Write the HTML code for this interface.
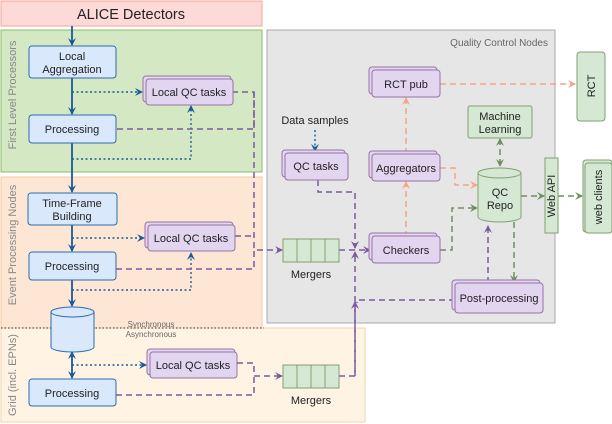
<!DOCTYPE html>
<html><head><meta charset="utf-8"><style>
body{margin:0;background:#fff}
svg{display:block;font-family:"Liberation Sans",sans-serif}
</style></head><body>
<svg width="612" height="424" viewBox="0 0 612 424" xmlns="http://www.w3.org/2000/svg">
<defs>
<marker id="ab" markerWidth="8" markerHeight="8" refX="7" refY="4" orient="auto" markerUnits="userSpaceOnUse"><path d="M0,0 L8,4 L0,8 L3,4z" fill="#1a5a9a"/></marker>
<marker id="ap" markerWidth="8" markerHeight="8" refX="7" refY="4" orient="auto" markerUnits="userSpaceOnUse"><path d="M0,0 L8,4 L0,8 L3,4z" fill="#7a5a9e"/></marker>
<marker id="ao" markerWidth="8" markerHeight="8" refX="7" refY="4" orient="auto" markerUnits="userSpaceOnUse"><path d="M0,0 L8,4 L0,8 L3,4z" fill="#f4a582"/></marker>
<marker id="ag" markerWidth="8" markerHeight="8" refX="7" refY="4" orient="auto" markerUnits="userSpaceOnUse"><path d="M0,0 L8,4 L0,8 L3,4z" fill="#6d8f5e"/></marker>
<marker id="agr" markerWidth="8" markerHeight="8" refX="1" refY="4" orient="auto" markerUnits="userSpaceOnUse"><path d="M8,0 L0,4 L8,8 L5,4z" fill="#6d8f5e"/></marker>
<marker id="abr" markerWidth="8" markerHeight="8" refX="1" refY="4" orient="auto" markerUnits="userSpaceOnUse"><path d="M8,0 L0,4 L8,8 L5,4z" fill="#1a5a9a"/></marker>
</defs>
<rect x="1" y="1" width="261" height="25" fill="#fdd9d7" stroke="#f0a89a"/>
<text x="131" y="19" font-size="14.5" text-anchor="middle" fill="#222">ALICE Detectors</text>
<rect x="1" y="30" width="261" height="142" fill="#d5e8c4" stroke="#8cbc6a"/>
<rect x="1" y="177" width="261" height="151" fill="#fde7d4" stroke="#f5c8a0"/>
<rect x="1" y="328" width="364" height="94" fill="#fff4e4" stroke="#f5d2a8"/>
<rect x="267" y="30" width="288" height="293" fill="#e6e6e6" stroke="#aaa"/>
<line x1="1" y1="328" x2="264" y2="328" stroke="#333" stroke-dasharray="1.5,2"/>
<text x="151" y="327" font-size="8" text-anchor="middle" fill="#666">Synchronous</text>
<text x="151" y="337" font-size="8" text-anchor="middle" fill="#666">Asynchronous</text>
<text x="548" y="46" font-size="10" text-anchor="end" fill="#666">Quality Control Nodes</text>
<text transform="translate(16,95) rotate(-90)" font-size="11" text-anchor="middle" fill="#888">First Level Processors</text>
<text transform="translate(16,245) rotate(-90)" font-size="11" text-anchor="middle" fill="#888">Event Processing Nodes</text>
<text transform="translate(16,375) rotate(-90)" font-size="11" text-anchor="middle" fill="#888">Grid (incl. EPNs)</text>

<g stroke="#1a5a9a" stroke-width="1.8" fill="none">
<line x1="72" y1="26" x2="72" y2="45" marker-end="url(#ab)"/>
<line x1="72" y1="78" x2="72" y2="114" marker-end="url(#ab)"/>
<line x1="72" y1="143" x2="72" y2="192" marker-end="url(#ab)"/>
<line x1="72" y1="225" x2="72" y2="251" marker-end="url(#ab)"/>
<line x1="72" y1="280" x2="72" y2="306" marker-end="url(#ab)"/>
<line x1="72" y1="352" x2="72" y2="378" marker-end="url(#ab)" marker-start="url(#abr)"/>
</g>
<g stroke="#1a5a9a" stroke-width="1.4" fill="none" stroke-dasharray="2,2.5">
<polyline points="72,92 142,92" marker-end="url(#ab)"/>
<polyline points="72,159 191,159 191,106" marker-end="url(#ab)"/>
<polyline points="72,238 144,238" marker-end="url(#ab)"/>
<polyline points="72,290 191,290 191,253" marker-end="url(#ab)"/>
<polyline points="72,365 146,365" marker-end="url(#ab)"/>
<polyline points="315,130 315,151" marker-end="url(#ab)"/>
</g>

<g stroke="#7a5a9e" stroke-width="1.5" fill="none" stroke-dasharray="6,4">
<polyline points="232,92 254,92 254,129 116,129"/>
<polyline points="254,92 254,250"/>
<polyline points="235,236 254,236"/>
<polyline points="116,269 254,269 254,250 282,250" marker-end="url(#ap)"/>
<polyline points="237,363 254,363 254,376 282,376" marker-end="url(#ap)"/>
<polyline points="116,395 254,395 254,376"/>
<polyline points="339,250 370,250" marker-end="url(#ap)"/>
<polyline points="318,180 318,192 355,192 355,248" marker-end="url(#ap)"/>
<polyline points="339,376 355,376 355,252" marker-end="url(#ap)"/>
<polyline points="455,300 357,300 357,303" />
<polyline points="355,376 355,302" marker-end="url(#ap)"/>
<polyline points="488,283 488,226" marker-end="url(#ap)"/>
</g>
<g stroke="#f4a582" stroke-width="1.5" fill="none" stroke-dasharray="6,4">
<polyline points="406,237 406,182" marker-end="url(#ao)"/>
<polyline points="406,154 406,98" marker-end="url(#ao)"/>
<polyline points="440,84 575,84" marker-end="url(#ao)"/>
<polyline points="440,168 455,168 455,185 477,185" marker-end="url(#ao)"/>
</g>
<g stroke="#6d8f5e" stroke-width="1.5" fill="none" stroke-dasharray="6,4">
<polyline points="440,250 452,250 452,208 477,208" marker-end="url(#ag)"/>
<polyline points="500,139 500,166" marker-end="url(#ag)" marker-start="url(#agr)"/>
<polyline points="521,196 544,196" marker-end="url(#ag)"/>
<polyline points="558,196 582,196" marker-end="url(#ag)"/>
<polyline points="514,222 514,282" marker-end="url(#ag)"/>
</g>

<g fill="#dae8fc" stroke="#2a6cb0" stroke-width="1">
<rect x="29" y="46" width="87" height="32" rx="3"/>
<rect x="29" y="115" width="87" height="28" rx="3"/>
<rect x="28" y="193" width="89" height="32" rx="3"/>
<rect x="29" y="252" width="87" height="28" rx="3"/>
<rect x="29" y="379" width="87" height="27" rx="3"/>
<path d="M51,312 v35 a21.5,5 0 0 0 43,0 v-35"/>
<ellipse cx="72.5" cy="312" rx="21.5" ry="5"/>
</g>
<g font-size="11" text-anchor="middle" fill="#222">
<text x="72" y="60">Local</text><text x="72" y="73">Aggregation</text>
<text x="72" y="133">Processing</text>
<text x="72" y="207">Time-Frame</text><text x="72" y="220">Building</text>
<text x="72" y="270">Processing</text>
<text x="72" y="397">Processing</text>
</g>

<g fill="#e1d5f0" stroke="#9673a6" stroke-width="1">
<rect x="143" y="76" width="88" height="26" rx="3"/><rect x="146" y="79" width="87" height="26" rx="3"/>
<rect x="145" y="222" width="88" height="26" rx="3"/><rect x="148" y="225" width="87" height="26" rx="3"/>
<rect x="147" y="349" width="88" height="26" rx="3"/><rect x="150" y="352" width="87" height="26" rx="3"/>
<rect x="282" y="150" width="63" height="27" rx="3"/><rect x="285" y="153" width="63" height="27" rx="3"/>
<rect x="369" y="67" width="68" height="27" rx="3"/><rect x="372" y="70" width="68" height="27" rx="3"/>
<rect x="369" y="151" width="68" height="27" rx="3"/><rect x="372" y="154" width="68" height="27" rx="3"/>
<rect x="369" y="233" width="68" height="27" rx="3"/><rect x="372" y="236" width="68" height="27" rx="3"/>
<rect x="452" y="280" width="88" height="30" rx="3"/><rect x="455" y="283" width="88" height="30" rx="3"/>
</g>
<g font-size="11" text-anchor="middle" fill="#222">
<text x="189" y="96">Local QC tasks</text>
<text x="191" y="242">Local QC tasks</text>
<text x="193" y="369">Local QC tasks</text>
<text x="316" y="170">QC tasks</text>
<text x="406" y="88">RCT pub</text>
<text x="406" y="172">Aggregators</text>
<text x="406" y="254">Checkers</text>
<text x="499" y="302">Post-processing</text>
<text x="315" y="124">Data samples</text>
</g>

<g fill="#d5e8d4" stroke="#82a070" stroke-width="1">
<g><rect x="283" y="239" width="56" height="23"/><line x1="297" y1="239" x2="297" y2="262"/><line x1="311" y1="239" x2="311" y2="262"/><line x1="325" y1="239" x2="325" y2="262"/></g>
<g><rect x="283" y="365" width="56" height="23"/><line x1="297" y1="365" x2="297" y2="388"/><line x1="311" y1="365" x2="311" y2="388"/><line x1="325" y1="365" x2="325" y2="388"/></g>
<rect x="468" y="106" width="64" height="32" rx="2"/>
<path d="M478,173 v44 a21.5,5 0 0 0 43,0 v-44"/>
<ellipse cx="499.5" cy="173" rx="21.5" ry="5"/>
<rect x="545" y="158" width="13" height="75"/>
<rect x="577" y="52" width="28" height="69" rx="3"/>
<rect x="583" y="160" width="29" height="72" rx="3"/><rect x="585" y="163" width="27" height="70" rx="3"/>
</g>
<g font-size="11" text-anchor="middle" fill="#222">
<text x="311" y="278">Mergers</text>
<text x="311" y="404">Mergers</text>
<text x="500" y="120">Machine</text><text x="500" y="133">Learning</text>
<text x="500" y="196">QC</text><text x="500" y="209">Repo</text>
<text transform="translate(555,196) rotate(-90)">Web API</text>
<text transform="translate(595,86) rotate(-90)">RCT</text>
<text transform="translate(602,197) rotate(-90)">web clients</text>
</g>
</svg>
</body></html>
